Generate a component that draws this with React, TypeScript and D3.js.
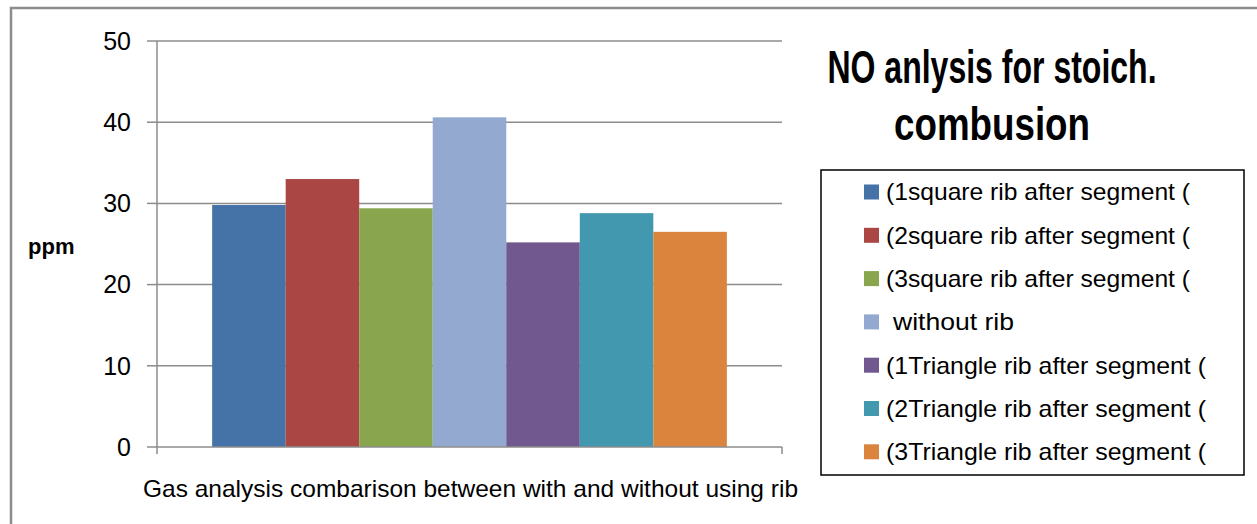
import React, { useLayoutEffect, useRef, useState } from "react";
import * as d3 from "d3";

const seriesNames = [
  "(1square rib after segment (",
  "(2square rib after segment (",
  "(3square rib after segment (",
  " without rib",
  "(1Triangle rib after segment (",
  "(2Triangle rib after segment (",
  "(3Triangle rib after segment (",
];
const seriesValues = [29.8, 33.0, 29.4, 40.6, 25.2, 28.8, 26.5];
const seriesColors = ["#4572A7", "#AA4643", "#89A54E", "#93A9CF", "#71588F", "#4198AF", "#DB843D"];
const yTicks = [0, 10, 20, 30, 40, 50];
const category = "Gas analysis combarison between with and without using rib";
const titleLines = ["NO anlysis for stoich.", "combusion"];

const W = 1257, H = 524;
const plot = { left: 157, right: 782, top: 41, bottom: 447 };
const narrow = "'Liberation Sans Narrow', 'Liberation Sans', Arial, sans-serif";

function FitText(props: { x: number; y: number; width: number; anchor?: string; size: number; bold?: boolean; text: string }) {
  const ref = useRef<SVGTextElement>(null);
  const [sx, setSx] = useState(0.75);
  useLayoutEffect(() => {
    if (ref.current) {
      const w = ref.current.getComputedTextLength();
      if (w > 0) setSx(props.width / w);
    }
  }, [props.width, props.text]);
  return (
    <text ref={ref} transform={`translate(${props.x},${props.y}) scale(${sx},1)`} textAnchor={props.anchor || "start"}
      fontFamily={narrow} fontWeight={props.bold ? "bold" : "normal"} fontSize={props.size}>{props.text}</text>
  );
}

export default function App() {
  const y = d3.scaleLinear().domain([0, 50]).range([plot.bottom, plot.top]);
  const outer = d3.scaleBand().domain([category]).range([plot.left, plot.right]);
  const bandW = outer.bandwidth();
  const barW = bandW / (seriesNames.length + 1.5);
  const x0 = (outer(category) as number) + (bandW - barW * seriesNames.length) / 2;
  const x = d3.scaleBand<number>().domain(d3.range(seriesNames.length)).range([x0, x0 + barW * seriesNames.length]).padding(0);
  const grid = "#8c8c8c";
  const legendX = 864, legendY0 = 192, legendStep = 43.3;
  const legendWidths = [304, 304, 304, 121, 320, 320, 320];

  return (
    <svg width={W} height={H} style={{ position: "absolute", left: 0, top: 0, background: "#fff" }}>
      <rect x={11} y={8} width={W + 20} height={H + 20} fill="#fff" stroke="#8c8c8c" strokeWidth={2.5} />
      {yTicks.map((t) => (
        <g key={t}>
          {t > 0 && <line x1={plot.left} x2={plot.right} y1={y(t)} y2={y(t)} stroke={grid} strokeWidth={1.5} />}
          <line x1={147} x2={plot.left} y1={y(t)} y2={y(t)} stroke={grid} strokeWidth={1.5} />
          <text x={131} y={y(t)} dy="0.35em" textAnchor="end" fontFamily="'Liberation Sans', Arial, sans-serif" fontSize={25} fill="#000">{t}</text>
        </g>
      ))}
      {seriesValues.map((v, i) => (
        <rect key={i} x={x(i)} y={y(v)} width={x.bandwidth()} height={y(0) - y(v)} fill={seriesColors[i]} />
      ))}
      <line x1={plot.left} x2={plot.left} y1={plot.top} y2={plot.bottom} stroke={grid} strokeWidth={1.5} />
      <line x1={plot.left} x2={plot.right} y1={plot.bottom} y2={plot.bottom} stroke={grid} strokeWidth={1.5} />
      <line x1={plot.left} x2={plot.left} y1={plot.bottom} y2={plot.bottom + 7} stroke={grid} strokeWidth={1.5} />
      <line x1={plot.right} x2={plot.right} y1={plot.bottom} y2={plot.bottom + 7} stroke={grid} strokeWidth={1.5} />
      <text x={28} y={254} fontFamily="'Liberation Sans', Arial, sans-serif" fontWeight="bold" fontSize={22}>ppm</text>
      <text x={143} y={497} fontFamily={narrow} fontSize={24} textLength={655} lengthAdjust="spacingAndGlyphs">{category}</text>
      {titleLines.map((l, i) => (
        <FitText key={i} x={992} y={83 + i * 57} anchor="middle" size={46} bold width={i === 0 ? 329 : 196} text={l} />
      ))}
      <rect x={821} y={170} width={423} height={305} fill="#fff" stroke="#000" strokeWidth={1.5} />
      {seriesNames.map((n, i) => (
        <g key={i}>
          <rect x={legendX} y={legendY0 + i * legendStep - 7.5} width={15} height={15} fill={seriesColors[i]} />
          <text x={i === 3 ? 893 : 886} y={legendY0 + i * legendStep} dy="0.35em" fontFamily={narrow} fontSize={24}
            textLength={legendWidths[i]} lengthAdjust="spacingAndGlyphs">{n.trim()}</text>
        </g>
      ))}
    </svg>
  );
}
